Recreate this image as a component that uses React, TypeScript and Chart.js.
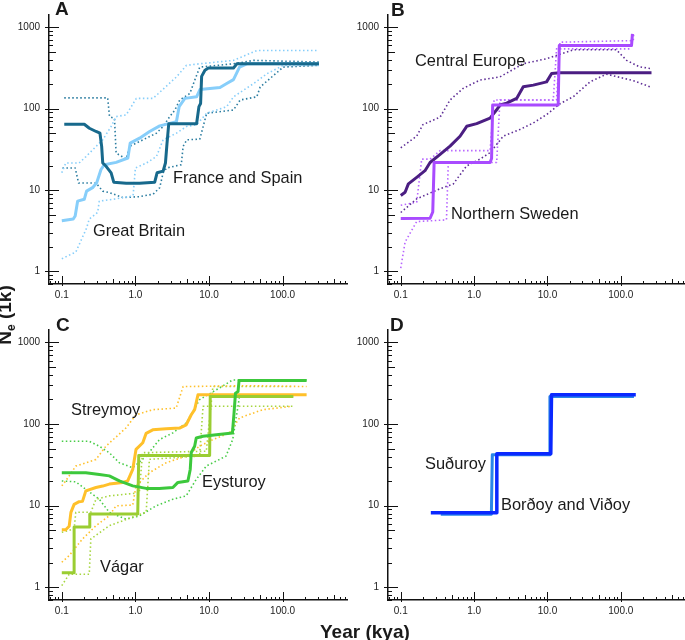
import React, { useEffect, useRef } from "react";
import { Chart, registerables } from "chart.js";
Chart.register(...registerables);

type Pt = [number, number];

// ---- axis ticks ----
const xTickValues = [0.1, 1, 10, 100];
const xTickLabels = ["0.1", "1.0", "10.0", "100.0"];
const yTickValues = [1, 10, 100, 1000];
const yTickLabels = ["1", "10", "100", "1000"];
const X_MIN = 0.067;
const X_MAX = 750;
const Y_MIN = 0.728;
const Y_MAX = 1420;

// ---- Panel A ----
const greatBritain: Pt[] = [[0.1,4.2],[0.143,4.4],[0.152,4.8],[0.164,7.3],[0.202,7.7],[0.217,9.7],[0.262,10.7],[0.298,12.3],[0.341,17.9],[0.379,20.5],[0.547,21.9],[0.79,24.8],[0.85,37.8],[1.14,43.5],[1.56,52.5],[2.14,61.5],[3.61,69.4],[3.93,106],[4.7,134],[6.78,140],[7.53,172],[14.1,182],[17.4,204],[21.5,228],[26,325],[32.7,357],[312,357]];
const franceSpain: Pt[] = [[0.108,64.4],[0.202,64.4],[0.237,57.5],[0.292,52.5],[0.33,50],[0.348,34.4],[0.36,21.5],[0.4,19.6],[0.468,16.3],[0.508,12.5],[0.75,12.1],[1.14,12.1],[1.83,12.5],[1.97,16.3],[2.38,17.1],[2.56,21.5],[2.69,37.8],[2.84,65.4],[6.78,65.4],[7.3,106],[7.69,116],[7.94,250],[8.81,297],[9.8,316],[21.5,316],[23.9,357],[312,357]];
const gbUpper: Pt[] = [[0.1,16.3],[0.113,21.5],[0.172,21.5],[0.213,25.8],[0.36,41.5],[0.468,60.5],[0.547,80],[0.75,84],[1.03,134],[1.74,134],[3.61,246],[4.94,341],[7.5,357],[21.5,393],[44.6,519],[312,519]];
const gbLower: Pt[] = [[0.1,1.43],[0.155,1.73],[0.217,3.4],[0.236,4.4],[0.307,5.3],[0.323,7.3],[0.547,7.8],[0.93,8.5],[1.0,18.7],[1.41,21.5],[1.93,25.8],[2.38,41.5],[3.61,50],[4.94,60.5],[6.78,63.6],[9.3,88],[17.4,106],[21.5,140],[40.4,204],[61.6,270],[102,341],[312,341]];
const fsUpper: Pt[] = [[0.108,136],[0.42,136],[0.445,80],[0.52,76],[0.547,28.5],[0.75,24.1],[0.83,34.4],[1.14,39.6],[1.41,43.5],[1.93,50],[2.38,60.5],[2.93,80],[3.44,96.4],[4.0,128],[5.5,154],[6.4,224],[7.5,325],[21.5,357],[40.4,393],[312,375]];
const fsLower: Pt[] = [[0.102,18.7],[0.152,18.7],[0.169,12.2],[0.292,12.2],[0.36,9.7],[0.445,9.3],[0.67,8.1],[1.14,8.3],[1.74,8.9],[2.14,10.7],[2.38,16.3],[2.66,18.7],[4.2,20.5],[4.45,34.4],[5.0,41.5],[7.5,42.3],[9.3,88],[21.5,96.4],[26.5,128],[44.6,140],[49.6,185],[102,325],[312,341]];

// ---- Panel B ----
const centralEurope: Pt[] = [[0.1,8.57],[0.1146,9.4],[0.127,11.9],[0.165,14.3],[0.214,17.3],[0.251,21.8],[0.344,27.5],[0.47,34.7],[0.643,45.9],[0.793,60.8],[1.084,65.5],[1.65,76.7],[2.03,97],[2.25,111],[2.78,117],[3.8,134],[4.68,186],[6.41,195],[9.73,214],[11.4,271],[14.8,276],[262,276]];
const northernSweden: Pt[] = [[0.1,4.46],[0.251,4.5],[0.273,5.37],[0.285,21.8],[1.65,21.8],[1.73,24.4],[1.79,111],[14.0,111],[14.5,598],[140,598],[144,830]];
const ceUpper: Pt[] = [[0.1,33.1],[0.165,46],[0.2,63.7],[0.344,78.9],[0.47,128],[0.71,178],[1.2,225],[2.25,246],[4.68,358],[9.73,412],[22.6,530],[87,530],[120,393],[180,327],[262,311]];
const ceLower: Pt[] = [[0.1,5.3],[0.165,7.8],[0.344,10.4],[0.52,11.9],[0.79,19.8],[1.2,24],[1.65,28.8],[2.5,46],[4.2,55.5],[6.4,66.8],[9.7,84.6],[14.8,115],[22.6,141],[38,214],[63.8,266],[98.5,242],[149,221],[262,183]];
const nsUpper: Pt[] = [[0.1,6.5],[0.165,7.1],[0.193,24],[0.251,24],[0.344,30.5],[1.65,30.5],[1.87,128],[13.3,128],[14.8,658],[148,688],[150,870]];
const nsLower: Pt[] = [[0.1,1.1],[0.1146,2.3],[0.165,4.1],[0.42,4.3],[0.445,21.8],[2.03,21.8],[2.25,128],[12,128],[13.3,545],[132,545]];

// ---- Panel C ----
const streymoy: Pt[] = [[0.1,5.08],[0.113,5.08],[0.126,5.6],[0.133,8.3],[0.147,10.4],[0.172,11.2],[0.191,11.3],[0.212,15.2],[0.291,16.7],[0.359,17.4],[0.442,18.4],[0.671,19.3],[0.786,20.1],[0.92,27.8],[1.02,49],[1.26,59],[1.4,77],[1.72,85],[2.62,87.7],[3.98,89.3],[4.9,98],[5.74,130],[6.38,150],[7.08,228],[212,228]];
const vagar: Pt[] = [[0.1,1.51],[0.147,1.51],[0.147,5.5],[0.236,5.5],[0.24,7.9],[1.076,7.9],[1.11,41.2],[10.2,41.2],[10.4,218],[140,218]];
const eysturoy: Pt[] = [[0.1,25.4],[0.212,25.4],[0.324,24.1],[0.442,23.2],[0.605,20.1],[0.92,17.5],[1.4,16.3],[2.12,16.3],[3.23,16.7],[3.78,19.3],[5.17,20.1],[5.56,27.8],[5.74,44.8],[6.38,53.5],[6.71,67.6],[8.28,70.8],[12.6,74.2],[20.8,77.7],[21.9,137],[22.9,239],[24.8,250],[25.6,341],[212,341]];
const streymoyUpper: Pt[] = [[0.1,17.5],[0.113,20.1],[0.155,30.6],[0.291,36.9],[0.398,53.6],[0.745,89.7],[1.02,130],[1.72,150],[3.58,157],[4.45,288],[35.6,295],[212,288]];
const streymoyLower: Pt[] = [[0.1,2.03],[0.126,2.45],[0.191,3.91],[0.291,5.69],[0.442,7.54],[0.545,9.96],[0.92,10.2],[1.02,17.5],[1.55,25.4],[2.62,33.6],[4.9,40.5],[7.45,53.6],[11.3,64.6],[19,78],[26,119],[54,150],[125,164]];
const vagarUpper: Pt[] = [[0.1,4.72],[0.147,5.2],[0.155,8.3],[0.248,8.3],[0.291,12],[0.442,13.2],[1.13,14.4],[1.25,44.6],[9.2,46.5],[11.3,288],[140,288]];
const vagarLower: Pt[] = [[0.1,1.05],[0.126,1.45],[0.236,1.45],[0.248,3.91],[0.442,5.69],[1.02,7.5],[1.4,8.3],[1.55,37],[7.45,40.5],[8.3,165],[140,165]];
const eysturoyUpper: Pt[] = [[0.1,61.6],[0.236,61.6],[0.323,53.6],[0.442,44.5],[0.605,33.6],[0.92,29.2],[1.4,40.5],[2.12,64.6],[3.23,78],[4.9,103],[7.45,199],[12.6,263],[21,347],[212,347]];
const eysturoyLower: Pt[] = [[0.1,20.1],[0.155,19.6],[0.323,12],[0.442,8.3],[0.745,6.86],[1.13,7.5],[1.92,10],[3.23,12],[4.9,13.2],[6.7,21],[9.2,30.6],[17,40.5],[21,64.6],[26,218],[140,218]];

// ---- Panel D ----
const bordoyVidoy: Pt[] = [[0.257,8.22],[2.04,8.22],[2.04,43.4],[11.1,43.4],[11.35,228],[160,228]];
const sudhuroy: Pt[] = [[0.351,7.84],[1.72,7.84],[1.77,42.2],[10.5,42.2],[10.8,218],[151,218]];

const FONT = "Arial, 'Liberation Sans', Helvetica, sans-serif";

type Series = { data: Pt[]; color: string; width: number; dotted?: boolean; order: number };

const tickPlugin = {
  id: "logMinorTicks",
  afterDraw(chart: any) {
    const { ctx, chartArea, scales } = chart;
    const xs = scales.x;
    const ys = scales.y;
    ctx.save();
    ctx.strokeStyle = "#111";
    ctx.lineWidth = 1;
    ctx.beginPath();
    for (let e = -2; e <= 3; e++) {
      for (let k = 1; k <= 9; k++) {
        const v = k * Math.pow(10, e);
        if (v >= xs.min && v <= xs.max) {
          const px = Math.round(xs.getPixelForValue(v)) + 0.5;
          const b = chartArea.bottom;
          const y1 = k === 1 ? b + 2 : b;
          const y2 = k === 1 ? b - 8 : k === 5 ? b - 5 : b - 3;
          ctx.moveTo(px, y1);
          ctx.lineTo(px, y2);
        }
        if (v >= ys.min && v <= ys.max) {
          const py = Math.round(ys.getPixelForValue(v)) + 0.5;
          const l = chartArea.left;
          const x1 = k === 1 ? l - 4 : l;
          const x2 = k === 1 ? l + 10 : k === 5 ? l + 7 : l + 4;
          ctx.moveTo(x1, py);
          ctx.lineTo(x2, py);
        }
      }
    }
    ctx.stroke();
    ctx.restore();
  },
};

function PanelChart({ series, left, top, width, height }: { series: Series[]; left: number; top: number; width: number; height: number }) {
  const ref = useRef<HTMLCanvasElement | null>(null);
  useEffect(() => {
    if (!ref.current) return;
    const chart = new Chart(ref.current, {
      type: "line",
      data: {
        datasets: series.map((s) => ({
          data: s.data.map(([x, y]) => ({ x, y })),
          borderColor: s.color,
          backgroundColor: s.color,
          borderWidth: s.width,
          borderDash: s.dotted ? [1.5, 2.5] : [],
          pointRadius: 0,
          fill: false,
          tension: 0,
          order: s.order,
          borderJoinStyle: "round" as const,
        })),
      },
      options: {
        animation: false,
        responsive: false,
        maintainAspectRatio: false,
        events: [],
        layout: { padding: { left: 0, top: 15, right: 3, bottom: 0 } },
        plugins: { legend: { display: false }, tooltip: { enabled: false } },
        scales: {
          x: {
            type: "logarithmic",
            position: "bottom",
            min: X_MIN,
            max: X_MAX,
            grid: { display: false, drawTicks: false },
            border: { display: true, color: "#111", width: 1.5 },
            afterBuildTicks: (s: any) => {
              s.ticks = xTickValues.map((v) => ({ value: v }));
            },
            afterFit: (s: any) => {
              s.height = 22;
            },
            ticks: {
              autoSkip: false,
              maxRotation: 0,
              padding: 5,
              color: "#222",
              font: { family: FONT, size: 10 },
              callback: (v: any) => {
                const i = xTickValues.indexOf(Number(v));
                return i >= 0 ? xTickLabels[i] : "";
              },
            },
          },
          y: {
            type: "logarithmic",
            position: "left",
            min: Y_MIN,
            max: Y_MAX,
            grid: { display: false, drawTicks: false },
            border: { display: true, color: "#111", width: 1.5 },
            afterBuildTicks: (s: any) => {
              s.ticks = yTickValues.map((v) => ({ value: v }));
            },
            afterFit: (s: any) => {
              s.width = 49;
            },
            ticks: {
              autoSkip: false,
              padding: 9,
              color: "#222",
              font: { family: FONT, size: 10 },
              callback: (v: any) => {
                const i = yTickValues.indexOf(Number(v));
                return i >= 0 ? yTickLabels[i] : "";
              },
            },
          },
        },
      },
      plugins: [tickPlugin],
    } as any);
    return () => chart.destroy();
  }, []);
  return (
    <canvas
      ref={ref}
      width={width}
      height={height}
      style={{ position: "absolute", left, top, width, height, display: "block" }}
    />
  );
}

function Txt({ text, left, baseline, size, bold, children }: { text?: string; left: number; baseline: number; size: number; bold?: boolean; children?: any }) {
  return (
    <div
      style={{
        position: "absolute",
        left,
        top: baseline - 0.8465 * size,
        fontSize: size,
        lineHeight: `${size}px`,
        fontFamily: FONT,
        fontWeight: bold ? "bold" : "normal",
        color: "#1a1a1a",
        whiteSpace: "nowrap",
      }}
    >
      {text}
      {children}
    </div>
  );
}

const gbColor = "#87CEFA";
const fsColor = "#17698C";
const ceColor = "#4B1E82";
const nsColor = "#A94BFF";
const stColor = "#FFC02A";
const vaColor = "#9ACD32";
const eyColor = "#3CC83C";
const suColor = "#2A86E8";
const boColor = "#0A28FF";

const panelA: Series[] = [
  { data: franceSpain, color: fsColor, width: 3, order: 0 },
  { data: greatBritain, color: gbColor, width: 3, order: 1 },
  { data: gbUpper, color: gbColor, width: 1.6, dotted: true, order: 2 },
  { data: gbLower, color: gbColor, width: 1.6, dotted: true, order: 2 },
  { data: fsUpper, color: "#2A7CA0", width: 1.6, dotted: true, order: 2 },
  { data: fsLower, color: "#2A7CA0", width: 1.6, dotted: true, order: 2 },
];
const panelB: Series[] = [
  { data: northernSweden, color: nsColor, width: 3, order: 0 },
  { data: centralEurope, color: ceColor, width: 3, order: 1 },
  { data: ceUpper, color: "#5E2E96", width: 1.6, dotted: true, order: 2 },
  { data: ceLower, color: "#5E2E96", width: 1.6, dotted: true, order: 2 },
  { data: nsUpper, color: "#B765FF", width: 1.6, dotted: true, order: 2 },
  { data: nsLower, color: "#B765FF", width: 1.6, dotted: true, order: 2 },
];
const panelC: Series[] = [
  { data: eysturoy, color: eyColor, width: 3, order: 0 },
  { data: vagar, color: vaColor, width: 3, order: 1 },
  { data: streymoy, color: stColor, width: 3, order: 2 },
  { data: streymoyUpper, color: stColor, width: 1.6, dotted: true, order: 3 },
  { data: streymoyLower, color: stColor, width: 1.6, dotted: true, order: 3 },
  { data: vagarUpper, color: "#A6D640", width: 1.6, dotted: true, order: 3 },
  { data: vagarLower, color: "#A6D640", width: 1.6, dotted: true, order: 3 },
  { data: eysturoyUpper, color: "#48CC48", width: 1.6, dotted: true, order: 3 },
  { data: eysturoyLower, color: "#48CC48", width: 1.6, dotted: true, order: 3 },
];
const panelD: Series[] = [
  { data: bordoyVidoy, color: boColor, width: 3.5, order: 0 },
  { data: sudhuroy, color: suColor, width: 3, order: 1 },
];

export default function App() {
  return (
    <div
      style={{
        position: "absolute",
        left: 0,
        top: 0,
        width: 685,
        height: 640,
        overflow: "hidden",
        background: "#fff",
      }}
    >
      <PanelChart series={panelA} left={0} top={0} width={350} height={306} />
      <PanelChart series={panelB} left={339} top={0} width={349} height={306} />
      <PanelChart series={panelC} left={0} top={315} width={350} height={307} />
      <PanelChart series={panelD} left={339} top={315} width={349} height={307} />

      <Txt text="A" left={55} baseline={15} size={19} bold />
      <Txt text="B" left={391} baseline={16.5} size={19} bold />
      <Txt text="C" left={56} baseline={331.5} size={19} bold />
      <Txt text="D" left={390} baseline={331.5} size={19} bold />

      <Txt text="France and Spain" left={173} baseline={182.7} size={16.4} />
      <Txt text="Great Britain" left={93} baseline={235.7} size={16.4} />
      <Txt text="Central Europe" left={415} baseline={66} size={16.4} />
      <Txt text="Northern Sweden" left={451} baseline={219.3} size={16.4} />
      <Txt text="Streymoy" left={71} baseline={414.7} size={16.4} />
      <Txt text="Eysturoy" left={202} baseline={486.7} size={16.4} />
      <Txt text="Vágar" left={100} baseline={571.7} size={16.4} />
      <Txt text="Suðuroy" left={425} baseline={469.3} size={16.4} />
      <Txt text="Borðoy and Viðoy" left={501} baseline={510} size={16.4} />

      <Txt text="Year (kya)" left={320} baseline={638} size={19} bold />

      <div
        style={{
          position: "absolute",
          left: 5 - 60,
          top: 315 - 11,
          width: 120,
          height: 22,
          lineHeight: "22px",
          textAlign: "center",
          transform: "rotate(-90deg)",
          fontFamily: FONT,
          fontWeight: "bold",
          fontSize: 19,
          color: "#1a1a1a",
          whiteSpace: "nowrap",
        }}
      >
        N<span style={{ fontSize: 12, verticalAlign: "-4px", lineHeight: "12px" }}>e</span> (1k)
      </div>
    </div>
  );
}
